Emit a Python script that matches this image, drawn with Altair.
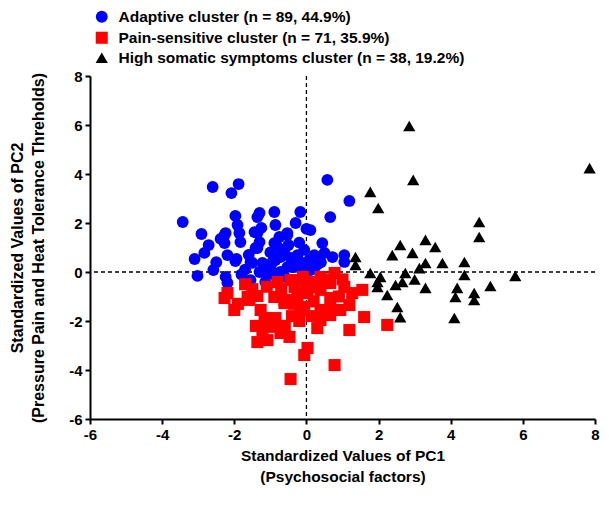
import altair as alt
import pandas as pd

clusters = ["Adaptive cluster (n = 89, 44.9%)",
            "Pain-sensitive cluster (n = 71, 35.9%)",
            "High somatic symptoms cluster (n = 38, 19.2%)"]
colors = ["#0000FF", "#FF0000", "#000000"]
shapes = ["circle", "square", "triangle-up"]

adaptive_x = [-3.43, -2.60, -1.88, -2.08, -1.97, -2.91, -2.24, -2.38, -1.91, -1.86,
              -1.83, -2.71, -2.83, -3.10, -1.94, -1.50, -1.41, -1.36, -3.02, -2.58,
              -2.24, -2.19, -1.97, -2.27, -1.22, -1.14, -0.86, -0.89, -0.75, -0.53,
              -1.55, -1.14, -0.80, -0.53, -0.30, -0.06, 0.11, -0.06, -0.72, -2.19,
              0.58, 1.19, 0.66, -1.30, -0.89, -0.17, -1.44, -1.25, -0.86, -0.30,
              0.00, 0.11, -0.53, -1.30, -1.36, 0.44, -0.80, -0.61, -0.25, 0.22,
              0.50, 0.72, 1.05, 1.05, -1.55, -0.94, -0.72, -0.44, -0.17, 0.08,
              0.22, -0.33, -1.36, -2.27, -1.00, -0.40, -1.70, -1.30, -0.60, -1.80,
              -0.90, 0.30, -0.20, -0.50, -1.00, -1.60, -2.50, -0.10, 0.40]
adaptive_y = [2.04, 3.47, 3.59, 3.22, 2.29, 1.55, 1.59, 1.35, 1.92, 1.59,
              1.22, 1.10, 0.78, 0.53, 0.53, 0.37, 0.98, 2.24, -0.16, 0.08,
              -0.20, -0.45, 0.45, 1.18, 0.37, -0.04, 0.49, 1.18, 1.43, 1.59,
              -0.33, -0.41, -0.33, 0.20, 0.57, 0.90, 0.08, 0.08, 0.00, 0.69,
              3.76, 2.90, 2.24, 2.41, 2.45, 2.45, 1.63, 1.80, 1.92, 2.00,
              1.76, 1.71, 1.51, 1.22, 0.98, 1.18, 1.02, 0.90, 0.69, 0.69,
              0.78, 0.61, 0.69, 0.41, 0.41, 0.41, 0.61, 0.57, 0.41, 0.49,
              0.16, 0.20, 1.59, 1.51, 0.20, 0.30, 0.10, 0.00, -0.20, -0.10,
              -0.10, 0.30, 1.20, 1.10, 0.80, 0.70, 0.40, 0.30, 0.40]

pain_x = [-2.27, -2.00, -1.63, -1.36, -1.27, -1.16, -0.86, -1.22, -1.02, -1.36,
          -1.08, -0.72, -0.47, -0.06, -0.89, -0.61, -0.33, -0.25, -0.17, -0.80,
          -0.44, -2.19, -1.58, -0.61, -0.19, -0.06, 0.30, 1.19, 0.03, 0.78,
          -0.44, 0.39, 0.66, 0.39, 0.78, 1.19, 1.27, 1.60, 1.05, 2.24,
          1.55, 0.94, 0.50, 0.30, -0.17, 0.39, 0.66, 0.03, -0.33, 0.39,
          0.66, 0.78, -1.90, -1.50, -1.10, -0.70, -0.40, -0.90, -0.60, 0.10,
          0.20, 0.50, 0.90, -1.40, -0.20, 1.00, 0.15, -1.70, -0.10, 0.00, -0.35]
pain_y = [-1.06, -1.55, -1.02, -0.98, -1.55, -1.88, -1.88, -2.37, -2.24, -2.86,
          -2.78, -2.49, -2.65, -3.39, -1.02, -1.14, -0.61, -1.02, -1.55, -0.41,
          -0.33, -0.86, -1.14, -1.27, -0.86, -1.43, -2.29, -2.37, -3.10, -3.80,
          -4.37, -0.73, -1.06, -1.63, -1.55, -1.35, -0.86, -1.84, -0.61, -2.16,
          -0.73, -1.55, -1.55, -0.61, -0.33, -0.20, -0.45, -0.86, -1.14, -1.96,
          -1.76, -0.04, -1.30, -0.70, -0.60, -0.70, -1.80, -2.00, -2.20, -0.40,
          -1.20, -0.30, -1.00, -2.20, -2.00, -0.30, -1.80, -0.50, -0.20, -0.60, -1.30]

somatic_x = [2.85, 2.96, 1.77, 1.99, 1.36, 1.36, 1.77, 1.97, 1.97, 2.24,
             2.47, 2.66, 2.74, 2.52, 2.60, 2.60, 2.38, 2.94, 3.30, 3.57,
             3.30, 3.13, 3.77, 3.30, 4.10, 4.38, 4.38, 4.18, 4.13, 4.65,
             4.65, 7.85, 4.79, 4.79, 5.79, 5.10, 2.05, 3.00]
somatic_y = [5.96, 3.76, 3.27, 2.61, 0.61, 0.29, -0.04, -0.41, -0.61, -0.94,
             -0.53, -0.41, -0.04, -1.43, -1.84, 1.10, 0.69, 0.78, 1.31, 1.02,
             0.37, 0.16, 0.37, -0.65, -1.88, 0.41, -0.12, -0.65, -1.02, -0.86,
             -1.14, 4.24, 2.04, 1.43, -0.16, -0.57, -0.20, -0.30]

rows = []
for cl, xs, ys in [(clusters[0], adaptive_x, adaptive_y),
                   (clusters[1], pain_x, pain_y),
                   (clusters[2], somatic_x, somatic_y)]:
    for a, b in zip(xs, ys):
        rows.append({"cluster": cl, "pc1": a, "pc2": b})
df = pd.DataFrame(rows)

font = "Liberation Sans"
ticks = [-6, -4, -2, 0, 2, 4, 6, 8]

x_scale = alt.Scale(domain=[-6, 8], nice=False, zero=False)
y_scale = alt.Scale(domain=[-6, 8], nice=False, zero=False)

x_axis = alt.Axis(values=ticks, labelExpr="'' + datum.value",
                  title=["Standardized Values of PC1", "(Psychosocial factors)"],
                  grid=False, titlePadding=6, titleFontSize=15.5)
y_axis = alt.Axis(values=ticks, labelExpr="'' + datum.value",
                  title=["Standardized Values of PC2", "(Pressure Pain and Heat Tolerance Threholds)"],
                  grid=False, titlePadding=22, titleFontSize=16)

ref = pd.DataFrame({"v": [0]})
vline = alt.Chart(ref).mark_rule(color="black", strokeDash=[4, 3], strokeWidth=1.3).encode(
    x=alt.X("v:Q", scale=x_scale, axis=x_axis))
hline = alt.Chart(ref).mark_rule(color="black", strokeDash=[4, 3], strokeWidth=1.3).encode(
    y=alt.Y("v:Q", scale=y_scale, axis=y_axis))

points = alt.Chart(df).mark_point(filled=True, opacity=1).encode(
    x=alt.X("pc1:Q", scale=x_scale, axis=x_axis),
    y=alt.Y("pc2:Q", scale=y_scale, axis=y_axis),
    color=alt.Color("cluster:N", scale=alt.Scale(domain=clusters, range=colors),
                    legend=alt.Legend(title=None, orient="none", legendX=4, legendY=-67,
                                      labelFont=font, labelFontSize=15.5, labelFontWeight="bold",
                                      labelColor="black", symbolSize=150, rowPadding=2,
                                      labelOffset=9, labelLimit=500, symbolOpacity=1)),
    shape=alt.Shape("cluster:N", scale=alt.Scale(domain=clusters, range=shapes)),
    size=alt.Size("cluster:N", scale=alt.Scale(domain=clusters, range=[140, 150, 120]), legend=None),
)

chart = alt.layer(vline, hline, points).properties(
    width=505, height=343,
    autosize=alt.AutoSizeParams(type="none"),
    padding={"left": 82, "top": 68, "right": 6, "bottom": 78},
).configure_view(stroke=None).configure_axis(
    domainColor="black", domainWidth=2, tickColor="black", tickWidth=2, tickSize=5,
    labelFont=font, labelFontSize=15, labelFontWeight="bold", labelColor="black",
    titleFont=font, titleFontWeight="bold", titleColor="black",
    titleLineHeight=21, labelPadding=3,
).configure_axisX(labelFlush=False).configure_axisY(labelFlush=False)

chart.save("out.html", embed_options={"renderer": "svg", "actions": False})
